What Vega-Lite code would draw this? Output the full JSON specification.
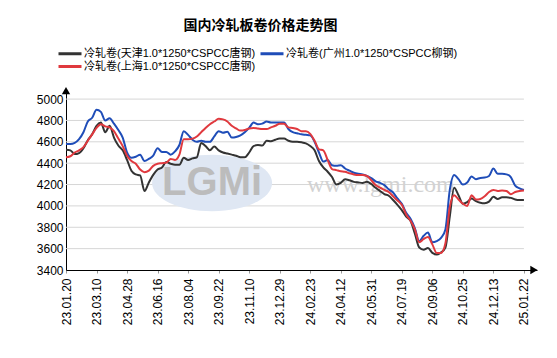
{
"$schema": "https://vega.github.io/schema/vega-lite/v6.json",
"width": 471, "height": 180,
"autosize": {"type": "none"},
"padding": {"left": 66, "top": 90, "right": 20, "bottom": 88},
"background": "white",
"title": {"text": "国内冷轧板卷价格走势图", "font": "Noto Sans CJK SC", "fontSize": 14, "fontWeight": "bold", "color": "#000", "anchor": "middle", "frame": "group", "dx": -41, "offset": 14},
"config": {
  "view": {"stroke": null},
  "axis": {"labelFont": "Liberation Sans", "labelFontSize": 12, "labelColor": "#000", "domainColor": "#000", "domainWidth": 1, "labelOverlap": false},
  "legend": {"orient": "none", "legendX": -2.5, "legendY": -43, "columns": 2, "direction": "horizontal", "symbolType": "M-2.3,0 L2.3,0", "symbolStrokeWidth": 3, "symbolSize": 100, "labelFont": "Liberation Sans, Noto Sans CJK SC", "labelFontSize": 11, "labelColor": "#000", "columnPadding": -1, "rowPadding": 0, "labelOffset": 7.5, "padding": 0, "labelLimit": 300}
},
"resolve": {"axis": {"x": "independent", "y": "independent"}},
"datasets": {
 "arrows": [{"ax": 0, "ay": 5080, "shape": "triangle-up"}, {"ax": 107.3, "ay": 3400, "shape": "triangle-right"}],
 "grid": [{"gx": 0, "gx2": 105, "gy": 3600}, {"gx": 0, "gx2": 105, "gy": 3800}, {"gx": 0, "gx2": 105, "gy": 4000}, {"gx": 0, "gx2": 105, "gy": 4200}, {"gx": 0, "gx2": 105, "gy": 4400}, {"gx": 0, "gx2": 105, "gy": 4600}, {"gx": 0, "gx2": 105, "gy": 4800}, {"gx": 0, "gx2": 105, "gy": 5000}]
},
"data": {"values": [
{"i":0,"s":"T","v":4525},{"i":1,"s":"T","v":4520},{"i":2,"s":"T","v":4485},{"i":3,"s":"T","v":4495},{"i":4,"s":"T","v":4540},{"i":5,"s":"T","v":4615},{"i":6,"s":"T","v":4670},{"i":7,"s":"T","v":4750},{"i":8,"s":"T","v":4780},{"i":9,"s":"T","v":4690},
{"i":10,"s":"T","v":4750},{"i":11,"s":"T","v":4640},{"i":12,"s":"T","v":4565},{"i":13,"s":"T","v":4520},{"i":14,"s":"T","v":4430},{"i":15,"s":"T","v":4330},{"i":16,"s":"T","v":4295},{"i":17,"s":"T","v":4285},{"i":18,"s":"T","v":4140},{"i":19,"s":"T","v":4220},
{"i":20,"s":"T","v":4290},{"i":21,"s":"T","v":4340},{"i":22,"s":"T","v":4360},{"i":23,"s":"T","v":4410},{"i":24,"s":"T","v":4395},{"i":25,"s":"T","v":4385},{"i":26,"s":"T","v":4385},{"i":27,"s":"T","v":4450},{"i":28,"s":"T","v":4430},{"i":29,"s":"T","v":4445},
{"i":30,"s":"T","v":4455},{"i":31,"s":"T","v":4590},{"i":32,"s":"T","v":4560},{"i":33,"s":"T","v":4520},{"i":34,"s":"T","v":4555},{"i":35,"s":"T","v":4520},{"i":36,"s":"T","v":4500},{"i":37,"s":"T","v":4490},{"i":38,"s":"T","v":4480},{"i":39,"s":"T","v":4470},
{"i":40,"s":"T","v":4455},{"i":41,"s":"T","v":4455},{"i":42,"s":"T","v":4500},{"i":43,"s":"T","v":4560},{"i":44,"s":"T","v":4570},{"i":45,"s":"T","v":4565},{"i":46,"s":"T","v":4610},{"i":47,"s":"T","v":4605},{"i":48,"s":"T","v":4620},{"i":49,"s":"T","v":4630},
{"i":50,"s":"T","v":4630},{"i":51,"s":"T","v":4610},{"i":52,"s":"T","v":4600},{"i":53,"s":"T","v":4600},{"i":54,"s":"T","v":4595},{"i":55,"s":"T","v":4585},{"i":56,"s":"T","v":4560},{"i":57,"s":"T","v":4520},{"i":58,"s":"T","v":4420},{"i":59,"s":"T","v":4360},
{"i":60,"s":"T","v":4320},{"i":61,"s":"T","v":4270},{"i":62,"s":"T","v":4200},{"i":63,"s":"T","v":4215},{"i":64,"s":"T","v":4250},{"i":65,"s":"T","v":4240},{"i":66,"s":"T","v":4225},{"i":67,"s":"T","v":4220},{"i":68,"s":"T","v":4215},{"i":69,"s":"T","v":4225},
{"i":70,"s":"T","v":4205},{"i":71,"s":"T","v":4170},{"i":72,"s":"T","v":4140},{"i":73,"s":"T","v":4110},{"i":74,"s":"T","v":4095},{"i":75,"s":"T","v":4055},{"i":76,"s":"T","v":4010},{"i":77,"s":"T","v":3960},{"i":78,"s":"T","v":3900},{"i":79,"s":"T","v":3860},
{"i":80,"s":"T","v":3740},{"i":81,"s":"T","v":3610},{"i":82,"s":"T","v":3590},{"i":83,"s":"T","v":3605},{"i":84,"s":"T","v":3560},{"i":85,"s":"T","v":3545},{"i":86,"s":"T","v":3565},{"i":87,"s":"T","v":3610},{"i":88,"s":"T","v":3900},{"i":89,"s":"T","v":4170},
{"i":90,"s":"T","v":4100},{"i":91,"s":"T","v":4020},{"i":92,"s":"T","v":4035},{"i":93,"s":"T","v":4070},{"i":94,"s":"T","v":4045},{"i":95,"s":"T","v":4030},{"i":96,"s":"T","v":4025},{"i":97,"s":"T","v":4040},{"i":98,"s":"T","v":4085},{"i":99,"s":"T","v":4065},
{"i":100,"s":"T","v":4080},{"i":101,"s":"T","v":4080},{"i":102,"s":"T","v":4075},{"i":103,"s":"T","v":4060},{"i":104,"s":"T","v":4055},{"i":105,"s":"T","v":4055},
{"i":0,"s":"G","v":4580},{"i":1,"s":"G","v":4580},{"i":2,"s":"G","v":4590},{"i":3,"s":"G","v":4625},{"i":4,"s":"G","v":4690},{"i":5,"s":"G","v":4790},{"i":6,"s":"G","v":4825},{"i":7,"s":"G","v":4900},{"i":8,"s":"G","v":4880},{"i":9,"s":"G","v":4800},
{"i":10,"s":"G","v":4820},{"i":11,"s":"G","v":4770},{"i":12,"s":"G","v":4710},{"i":13,"s":"G","v":4640},{"i":14,"s":"G","v":4500},{"i":15,"s":"G","v":4450},{"i":16,"s":"G","v":4460},{"i":17,"s":"G","v":4480},{"i":18,"s":"G","v":4420},{"i":19,"s":"G","v":4440},
{"i":20,"s":"G","v":4470},{"i":21,"s":"G","v":4540},{"i":22,"s":"G","v":4505},{"i":23,"s":"G","v":4505},{"i":24,"s":"G","v":4480},{"i":25,"s":"G","v":4510},{"i":26,"s":"G","v":4570},{"i":27,"s":"G","v":4700},{"i":28,"s":"G","v":4665},{"i":29,"s":"G","v":4620},
{"i":30,"s":"G","v":4600},{"i":31,"s":"G","v":4610},{"i":32,"s":"G","v":4600},{"i":33,"s":"G","v":4600},{"i":34,"s":"G","v":4650},{"i":35,"s":"G","v":4700},{"i":36,"s":"G","v":4685},{"i":37,"s":"G","v":4695},{"i":38,"s":"G","v":4640},{"i":39,"s":"G","v":4645},
{"i":40,"s":"G","v":4660},{"i":41,"s":"G","v":4690},{"i":42,"s":"G","v":4730},{"i":43,"s":"G","v":4780},{"i":44,"s":"G","v":4765},{"i":45,"s":"G","v":4770},{"i":46,"s":"G","v":4790},{"i":47,"s":"G","v":4780},{"i":48,"s":"G","v":4780},{"i":49,"s":"G","v":4780},
{"i":50,"s":"G","v":4780},{"i":51,"s":"G","v":4720},{"i":52,"s":"G","v":4690},{"i":53,"s":"G","v":4680},{"i":54,"s":"G","v":4670},{"i":55,"s":"G","v":4665},{"i":56,"s":"G","v":4660},{"i":57,"s":"G","v":4600},{"i":58,"s":"G","v":4500},{"i":59,"s":"G","v":4415},
{"i":60,"s":"G","v":4430},{"i":61,"s":"G","v":4380},{"i":62,"s":"G","v":4375},{"i":63,"s":"G","v":4380},{"i":64,"s":"G","v":4350},{"i":65,"s":"G","v":4330},{"i":66,"s":"G","v":4310},{"i":67,"s":"G","v":4300},{"i":68,"s":"G","v":4295},{"i":69,"s":"G","v":4280},
{"i":70,"s":"G","v":4260},{"i":71,"s":"G","v":4230},{"i":72,"s":"G","v":4215},{"i":73,"s":"G","v":4195},{"i":74,"s":"G","v":4155},{"i":75,"s":"G","v":4125},{"i":76,"s":"G","v":4070},{"i":77,"s":"G","v":4020},{"i":78,"s":"G","v":3935},{"i":79,"s":"G","v":3880},
{"i":80,"s":"G","v":3790},{"i":81,"s":"G","v":3670},{"i":82,"s":"G","v":3720},{"i":83,"s":"G","v":3750},{"i":84,"s":"G","v":3660},{"i":85,"s":"G","v":3670},{"i":86,"s":"G","v":3700},{"i":87,"s":"G","v":3780},{"i":88,"s":"G","v":4150},{"i":89,"s":"G","v":4290},
{"i":90,"s":"G","v":4250},{"i":91,"s":"G","v":4200},{"i":92,"s":"G","v":4220},{"i":93,"s":"G","v":4275},{"i":94,"s":"G","v":4250},{"i":95,"s":"G","v":4262},{"i":96,"s":"G","v":4265},{"i":97,"s":"G","v":4280},{"i":98,"s":"G","v":4350},{"i":99,"s":"G","v":4300},
{"i":100,"s":"G","v":4300},{"i":101,"s":"G","v":4295},{"i":102,"s":"G","v":4270},{"i":103,"s":"G","v":4190},{"i":104,"s":"G","v":4165},{"i":105,"s":"G","v":4150},
{"i":0,"s":"S","v":4455},{"i":1,"s":"S","v":4465},{"i":2,"s":"S","v":4500},{"i":3,"s":"S","v":4520},{"i":4,"s":"S","v":4550},{"i":5,"s":"S","v":4610},{"i":6,"s":"S","v":4670},{"i":7,"s":"S","v":4730},{"i":8,"s":"S","v":4765},{"i":9,"s":"S","v":4745},
{"i":10,"s":"S","v":4735},{"i":11,"s":"S","v":4700},{"i":12,"s":"S","v":4630},{"i":13,"s":"S","v":4560},{"i":14,"s":"S","v":4470},{"i":15,"s":"S","v":4420},{"i":16,"s":"S","v":4395},{"i":17,"s":"S","v":4340},{"i":18,"s":"S","v":4315},{"i":19,"s":"S","v":4330},
{"i":20,"s":"S","v":4375},{"i":21,"s":"S","v":4395},{"i":22,"s":"S","v":4400},{"i":23,"s":"S","v":4405},{"i":24,"s":"S","v":4440},{"i":25,"s":"S","v":4430},{"i":26,"s":"S","v":4480},{"i":27,"s":"S","v":4625},{"i":28,"s":"S","v":4625},{"i":29,"s":"S","v":4630},
{"i":30,"s":"S","v":4650},{"i":31,"s":"S","v":4690},{"i":32,"s":"S","v":4730},{"i":33,"s":"S","v":4765},{"i":34,"s":"S","v":4790},{"i":35,"s":"S","v":4815},{"i":36,"s":"S","v":4810},{"i":37,"s":"S","v":4790},{"i":38,"s":"S","v":4750},{"i":39,"s":"S","v":4725},
{"i":40,"s":"S","v":4705},{"i":41,"s":"S","v":4710},{"i":42,"s":"S","v":4725},{"i":43,"s":"S","v":4730},{"i":44,"s":"S","v":4725},{"i":45,"s":"S","v":4720},{"i":46,"s":"S","v":4720},{"i":47,"s":"S","v":4735},{"i":48,"s":"S","v":4750},{"i":49,"s":"S","v":4770},
{"i":50,"s":"S","v":4770},{"i":51,"s":"S","v":4735},{"i":52,"s":"S","v":4730},{"i":53,"s":"S","v":4720},{"i":54,"s":"S","v":4700},{"i":55,"s":"S","v":4700},{"i":56,"s":"S","v":4675},{"i":57,"s":"S","v":4610},{"i":58,"s":"S","v":4530},{"i":59,"s":"S","v":4520},
{"i":60,"s":"S","v":4430},{"i":61,"s":"S","v":4345},{"i":62,"s":"S","v":4335},{"i":63,"s":"S","v":4325},{"i":64,"s":"S","v":4320},{"i":65,"s":"S","v":4305},{"i":66,"s":"S","v":4295},{"i":67,"s":"S","v":4290},{"i":68,"s":"S","v":4290},{"i":69,"s":"S","v":4280},
{"i":70,"s":"S","v":4240},{"i":71,"s":"S","v":4195},{"i":72,"s":"S","v":4170},{"i":73,"s":"S","v":4150},{"i":74,"s":"S","v":4130},{"i":75,"s":"S","v":4090},{"i":76,"s":"S","v":4050},{"i":77,"s":"S","v":4010},{"i":78,"s":"S","v":3920},{"i":79,"s":"S","v":3860},
{"i":80,"s":"S","v":3780},{"i":81,"s":"S","v":3660},{"i":82,"s":"S","v":3690},{"i":83,"s":"S","v":3710},{"i":84,"s":"S","v":3640},{"i":85,"s":"S","v":3560},{"i":86,"s":"S","v":3560},{"i":87,"s":"S","v":3650},{"i":88,"s":"S","v":3990},{"i":89,"s":"S","v":4100},
{"i":90,"s":"S","v":4060},{"i":91,"s":"S","v":4020},{"i":92,"s":"S","v":4000},{"i":93,"s":"S","v":4100},{"i":94,"s":"S","v":4060},{"i":95,"s":"S","v":4065},{"i":96,"s":"S","v":4090},{"i":97,"s":"S","v":4130},{"i":98,"s":"S","v":4150},{"i":99,"s":"S","v":4140},
{"i":100,"s":"S","v":4145},{"i":101,"s":"S","v":4140},{"i":102,"s":"S","v":4110},{"i":103,"s":"S","v":4130},{"i":104,"s":"S","v":4140},{"i":105,"s":"S","v":4145}
]},
"layer": [
 {
  "data": {"name": "grid"},
  "mark": {"type": "rule", "color": "#d6d6d6", "strokeWidth": 1},
  "encoding": {
   "x": {"field": "gx", "type": "quantitative", "scale": {"domain": [0, 108], "nice": false, "zero": false}, "axis": null},
   "x2": {"field": "gx2"},
   "y": {"field": "gy", "type": "quantitative", "scale": {"domain": [3400, 5085], "nice": false, "zero": false}, "axis": null}
  }
 },
 {
  "data": {"values": [{}]},
  "mark": {"type": "point", "shape": "M-1,0 A1,0.47 0 1,1 1,0 A1,0.47 0 1,1 -1,0 Z", "filled": true, "size": 14400, "color": "#dfe7f3", "opacity": 1},
  "encoding": {
   "x": {"datum": 33.5, "type": "quantitative", "scale": {"domain": [0, 108], "nice": false, "zero": false}, "axis": null},
   "y": {"datum": 4215, "type": "quantitative", "scale": {"domain": [3400, 5085], "nice": false, "zero": false}, "axis": null}
  }
 },
 {
  "data": {"values": [{}]},
  "mark": {"type": "text", "text": "LGMi", "font": "Liberation Sans", "fontSize": 40, "fontWeight": "bold", "color": "#bcbcbc", "baseline": "middle", "align": "center"},
  "encoding": {
   "x": {"datum": 33.5, "type": "quantitative", "scale": {"domain": [0, 108], "nice": false, "zero": false}, "axis": null},
   "y": {"datum": 4215, "type": "quantitative", "scale": {"domain": [3400, 5085], "nice": false, "zero": false}, "axis": null}
  }
 },
 {
  "data": {"values": [{}]},
  "mark": {"type": "text", "text": "www.lgmi.com", "font": "Liberation Serif", "fontSize": 24, "color": "#d2d2d2", "baseline": "middle", "align": "center"},
  "encoding": {
   "x": {"datum": 72.2, "type": "quantitative", "scale": {"domain": [0, 108], "nice": false, "zero": false}, "axis": null},
   "y": {"datum": 4195, "type": "quantitative", "scale": {"domain": [3400, 5085], "nice": false, "zero": false}, "axis": null}
  }
 },
 {
  "data": {"name": "arrows"},
  "mark": {"type": "point", "filled": true, "color": "#000", "size": 70, "opacity": 1},
  "encoding": {
   "x": {"field": "ax", "type": "quantitative", "scale": {"domain": [0, 108], "nice": false, "zero": false}, "axis": null},
   "y": {"field": "ay", "type": "quantitative", "scale": {"domain": [3400, 5085], "nice": false, "zero": false}, "axis": null},
   "shape": {"field": "shape", "type": "nominal", "scale": null, "legend": null}
  }
 },
 {
  "mark": {"type": "line", "strokeWidth": 2, "interpolate": "monotone"},
  "encoding": {
   "x": {"field": "i", "type": "quantitative", "scale": {"domain": [0, 108], "nice": false, "zero": false},
         "axis": {"title": null, "values": [0,7,14,21,28,35,42,49,56,63,70,77,84,91,98,105], "grid": false, "labelAngle": -90, "labelPadding": 5, "tickSize": 3, "tickColor": "#999999", "labelOverlap": false, "labelExpr": "['23.01.20','23.03.10','23.04.28','23.06.16','23.08.04','23.09.22','23.11.10','23.12.29','24.02.23','24.04.12','24.05.31','24.07.19','24.09.06','24.10.25','24.12.13','25.01.22'][round(datum.value/7)]"}},
   "y": {"field": "v", "type": "quantitative", "scale": {"domain": [3400, 5085], "nice": false, "zero": false},
         "axis": {"title": null, "values": [3400,3600,3800,4000,4200,4400,4600,4800,5000], "format": "d", "grid": false, "ticks": false, "labelPadding": 3, "labelOverlap": false}},
   "color": {"field": "s", "type": "nominal", "scale": {"domain": ["T", "G", "S"], "range": ["#333333", "#1f4db8", "#e0393e"]},
         "legend": {"title": null, "labelExpr": "datum.label == 'T' ? '冷轧卷(天津1.0*1250*CSPCC唐钢)' : (datum.label == 'G' ? '冷轧卷(广州1.0*1250*CSPCC柳钢)' : '冷轧卷(上海1.0*1250*CSPCC唐钢)')"}}
  }
 }
]
}
